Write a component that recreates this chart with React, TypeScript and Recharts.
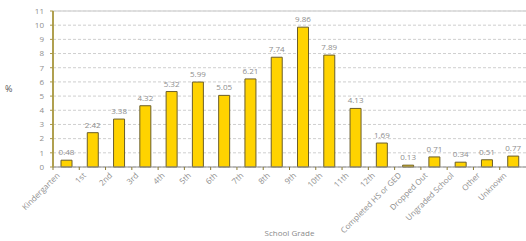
import { BarChart, Bar, XAxis, YAxis, CartesianGrid, LabelList, ReferenceLine } from 'recharts';

const GRADES = [
  'Kindergarten', '1st', '2nd', '3rd', '4th', '5th', '6th', '7th', '8th', '9th',
  '10th', '11th', '12th', 'Completed HS or GED', 'Dropped Out', 'Ungraded School', 'Other', 'Unknown',
];
const PERCENTS = [0.48, 2.42, 3.38, 4.32, 5.32, 5.99, 5.05, 6.21, 7.74, 9.86, 7.89, 4.13, 1.69, 0.13, 0.71, 0.34, 0.51, 0.77];
const Y_TICKS = [0, 1, 2, 3, 4, 5, 6, 7, 8, 9, 10, 11];

const data = GRADES.map((g, i) => ({ grade: g, pct: PERCENTS[i] }));

const FONT = '"Open Sans", sans-serif';
const BAND = (526 - 53) / GRADES.length;

function GradeTick(props: any) {
  const { x, y, payload } = props;
  const bx = x - BAND / 2;
  const tx = x - 6;
  const ty = y + 4;
  return (
    <g>
      <line x1={bx} y1={y - 5} x2={bx} y2={y - 2} stroke="#8a7a30" strokeWidth={1} />
      <text
        x={tx}
        y={ty}
        textAnchor="end"
        fontSize={8}
        fill="#8e8e8e"
        fontFamily={FONT}
        transform={`rotate(-45 ${tx} ${ty})`}
      >
        {payload.value}
      </text>
    </g>
  );
}

export default function App() {
  return (
    <div style={{ position: 'absolute', left: 0, top: 0, background: '#fff' }}>
      <BarChart width={526} height={241} data={data} margin={{ top: 11, right: 0, left: 0, bottom: 0 }}>
        <CartesianGrid vertical={false} stroke="#cfcfcf" strokeDasharray="3 2" />
        <ReferenceLine y={11} stroke="#d8d8d8" strokeWidth={1.5} />
        <XAxis
          dataKey="grade"
          interval={0}
          height={74}
          tickSize={3}
          tickMargin={2}
          tickLine={false}
          tick={<GradeTick />}
          axisLine={{ stroke: '#8c8c8c' }}
          label={{ value: 'School Grade', position: 'insideBottom', offset: 5, fontSize: 8, fill: '#8a8a8a', fontFamily: FONT }}
        />
        <YAxis
          width={53}
          domain={[0, 11]}
          ticks={Y_TICKS}
          interval={0}
          tickSize={3}
          tickMargin={6}
          tick={{ fontSize: 8, fill: '#8e8e8e', fontFamily: FONT }}
          tickLine={{ stroke: '#a89848' }}
          axisLine={{ stroke: '#b0a050', strokeWidth: 2 }}
          label={{ value: '%', position: 'insideLeft', offset: 5, fontSize: 9, fill: '#555', fontFamily: FONT }}
        />
        <Bar dataKey="pct" barSize={11} fill="#FFD300" stroke="#6b5e2a" strokeWidth={1} isAnimationActive={false}>
          <LabelList dataKey="pct" position="top" offset={5} fontSize={8} fill="#8e8e8e" fontFamily={FONT} />
        </Bar>
      </BarChart>
    </div>
  );
}
